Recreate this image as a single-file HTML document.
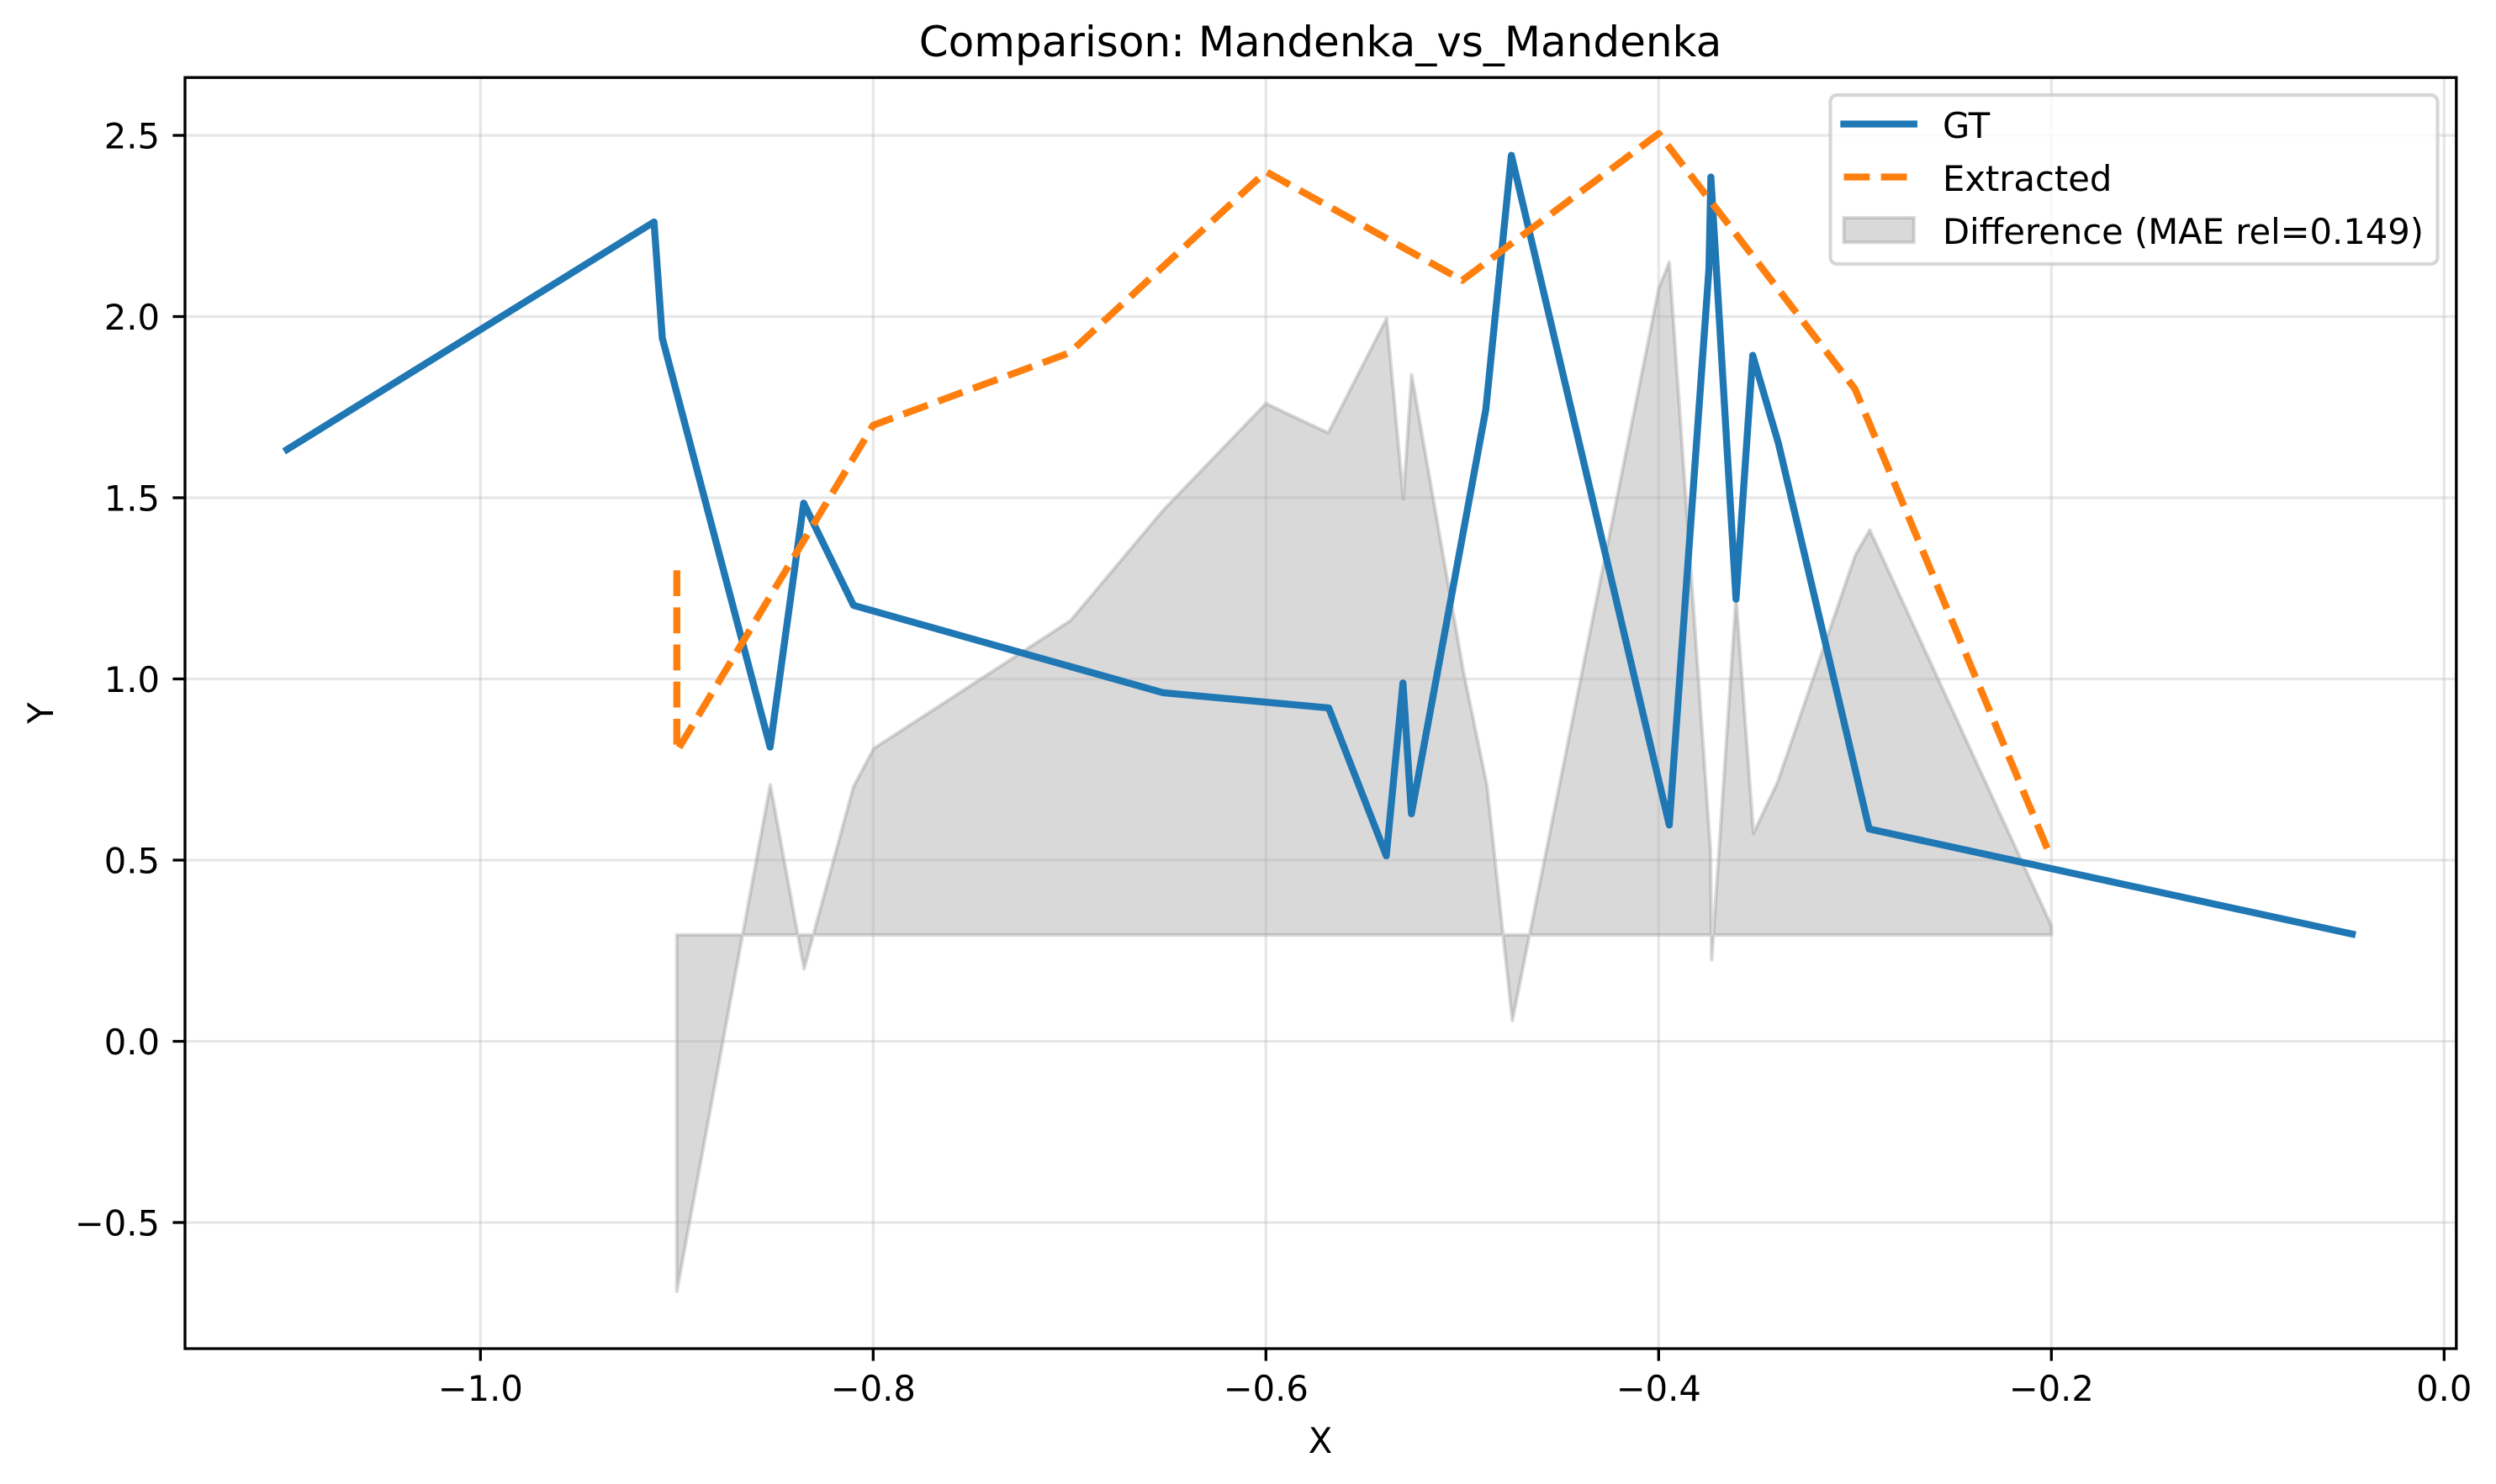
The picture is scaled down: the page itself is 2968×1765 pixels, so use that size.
<!DOCTYPE html>
<html lang="en">
<head>
<meta charset="utf-8">
<title>Comparison: Mandenka_vs_Mandenka</title>
<style>
html,body{margin:0;padding:0;background:#fff;width:2968px;height:1765px;overflow:hidden}
svg{display:block}
text{font-family:"DejaVu Sans","Liberation Sans",sans-serif;fill:#000}
</style>
</head>
<body>
<svg id="chart" xmlns="http://www.w3.org/2000/svg" width="2968" height="1765" viewBox="0 0 2968 1765">
  <rect x="0" y="0" width="2968" height="1765" fill="#fff"/>
  <g id="diff-layer"></g>
  <g id="grid-layer"></g>
  <g id="line-layer"></g>
  <g id="axis-layer"></g>
  <text x="1570" y="67" font-size="50" text-anchor="middle">Comparison: Mandenka_vs_Mandenka</text>
  <text x="1570" y="1728" font-size="41.67" text-anchor="middle">X</text>
  <text x="0" y="0" font-size="41.67" text-anchor="middle" transform="translate(63 848) rotate(-90)">Y</text>
  <g>
    <rect x="2176.5" y="113" width="722" height="201" rx="8" ry="8" fill="#fff" fill-opacity="0.8" stroke="#ccc" stroke-opacity="0.8" stroke-width="4.17"/>
    <line x1="2192.5" y1="147.5" x2="2275.8" y2="147.5" stroke="#1f77b4" stroke-width="8.33" stroke-linecap="square"/>
    <text x="2310" y="164" font-size="41.67">GT</text>
    <line x1="2192.5" y1="210.5" x2="2275.8" y2="210.5" stroke="#ff7f0e" stroke-width="8.33" stroke-dasharray="30.83 13.33"/>
    <text x="2310" y="227" font-size="41.67">Extracted</text>
    <rect x="2192.5" y="259" width="83.3" height="29.2" fill="#808080" fill-opacity="0.3" stroke="#808080" stroke-opacity="0.3" stroke-width="4.17"/>
    <text x="2310" y="290" font-size="41.67">Difference (MAE rel=0.149)</text>
  </g>
</svg>
<script>
const xTicks = [-1.0, -0.8, -0.6, -0.4, -0.2, 0.0];
const xTickLabels = ["\u22121.0", "\u22120.8", "\u22120.6", "\u22120.4", "\u22120.2", "0.0"];
const yTicks = [-0.5, 0.0, 0.5, 1.0, 1.5, 2.0, 2.5];
const yTickLabels = ["\u22120.5", "0.0", "0.5", "1.0", "1.5", "2.0", "2.5"];

const gtX = [-1.0985, -0.9116, -0.9074, -0.8525, -0.8354, -0.81, -0.6524, -0.568, -0.5387, -0.5302, -0.5259, -0.488, -0.475, -0.3946, -0.3744, -0.3734, -0.3606, -0.3521, -0.339, -0.2928, -0.0468];
const gtY = [1.633, 2.261, 1.941, 0.812, 1.485, 1.203, 0.962, 0.92, 0.512, 0.989, 0.628, 1.744, 2.445, 0.597, 2.131, 2.385, 1.22, 1.893, 1.65, 0.586, 0.296];

const extractedX = [-0.9, -0.9, -0.8, -0.7, -0.6, -0.5, -0.4, -0.3, -0.2];
const extractedY = [1.3, 0.8, 1.7, 1.9, 2.4, 2.1, 2.505, 1.8, 0.505];

const diffX = [-0.9, -0.8524, -0.8352, -0.81, -0.7997, -0.6995, -0.6524, -0.6, -0.5683, -0.5385, -0.53, -0.5258, -0.4994, -0.4874, -0.4745, -0.3999, -0.3946, -0.3736, -0.373, -0.3606, -0.3517, -0.3393, -0.2999, -0.2925, -0.2];
const diffY = [-0.69, 0.708, 0.2, 0.703, 0.808, 1.161, 1.465, 1.76, 1.679, 1.995, 1.497, 1.839, 1.02, 0.705, 0.057, 2.078, 2.15, 0.528, 0.225, 1.224, 0.574, 0.717, 1.341, 1.411, 0.319];
const diffBaseline = [0.2935];

const plotLeft = 220, plotRight = 2920.8, plotTop = 92.2, plotBottom = 1604;
const xScale = v => 2906.3 + 2335 * v;
const yScale = v => 1238.5 - 431 * v;
const NS = "http://www.w3.org/2000/svg";

function make(tag, attrs, parent) {
  const el = document.createElementNS(NS, tag);
  Object.keys(attrs).forEach(k => el.setAttribute(k, attrs[k]));
  parent.appendChild(el);
  return el;
}
function pointsOf(xs, ys) {
  return xs.map((x, i) => xScale(x).toFixed(2) + "," + yScale(ys[i]).toFixed(2)).join(" ");
}

const diffLayer = document.getElementById("diff-layer");
const gridLayer = document.getElementById("grid-layer");
const lineLayer = document.getElementById("line-layer");
const axisLayer = document.getElementById("axis-layer");

const diffLower = diffX.slice().reverse().map(x => xScale(x).toFixed(2) + "," + yScale(diffBaseline[0]).toFixed(2)).join(" ");
const diffArea = make("polygon", {
  points: pointsOf(diffX, diffY) + " " + diffLower,
  fill: "#808080", "fill-opacity": 0.3, stroke: "#808080", "stroke-opacity": 0.3,
  "stroke-width": 4.17, "stroke-linejoin": "round"
}, diffLayer);



xTicks.forEach((t, i) => {
  const px = xScale(t);
  const grid = make("line", { x1: px, x2: px, y1: plotTop, y2: plotBottom, stroke: "#b0b0b0", "stroke-opacity": 0.3, "stroke-width": 3.33 }, gridLayer);
  
  
  const tick = make("line", { x1: px, x2: px, y1: plotBottom, y2: plotBottom + 14.6, stroke: "#000", "stroke-width": 3.33 }, axisLayer);
  
  
  const label = make("text", { x: px, y: 1666, "font-size": 41.67, "text-anchor": "middle" }, axisLayer);
  label.textContent = xTickLabels[i];
  
  
});

yTicks.forEach((t, i) => {
  const py = yScale(t);
  const grid = make("line", { x1: plotLeft, x2: plotRight, y1: py, y2: py, stroke: "#b0b0b0", "stroke-opacity": 0.3, "stroke-width": 3.33 }, gridLayer);
  
  
  const tick = make("line", { x1: plotLeft - 14.6, x2: plotLeft, y1: py, y2: py, stroke: "#000", "stroke-width": 3.33 }, axisLayer);
  
  
  const label = make("text", { x: 190, y: py + 15.5, "font-size": 41.67, "text-anchor": "end" }, axisLayer);
  label.textContent = yTickLabels[i];
  
  
});

const gtLine = make("polyline", {
  points: pointsOf(gtX, gtY), fill: "none", stroke: "#1f77b4", "stroke-width": 8.33,
  "stroke-linecap": "square", "stroke-linejoin": "round"
}, lineLayer);



const extractedLine = make("polyline", {
  points: pointsOf(extractedX, extractedY), fill: "none", stroke: "#ff7f0e", "stroke-width": 8.33,
  "stroke-dasharray": "30.83 13.33", "stroke-linecap": "butt", "stroke-linejoin": "round"
}, lineLayer);



const spineLeft = make("line", { x1: plotLeft, x2: plotLeft, y1: plotTop - 1.67, y2: plotBottom + 1.67, stroke: "#000", "stroke-width": 3.33 }, axisLayer);


const spineRight = make("line", { x1: plotRight, x2: plotRight, y1: plotTop - 1.67, y2: plotBottom + 1.67, stroke: "#000", "stroke-width": 3.33 }, axisLayer);


const spineTop = make("line", { x1: plotLeft, x2: plotRight, y1: plotTop, y2: plotTop, stroke: "#000", "stroke-width": 3.33 }, axisLayer);


const spineBottom = make("line", { x1: plotLeft, x2: plotRight, y1: plotBottom, y2: plotBottom, stroke: "#000", "stroke-width": 3.33 }, axisLayer);


</script>
</body>
</html>
